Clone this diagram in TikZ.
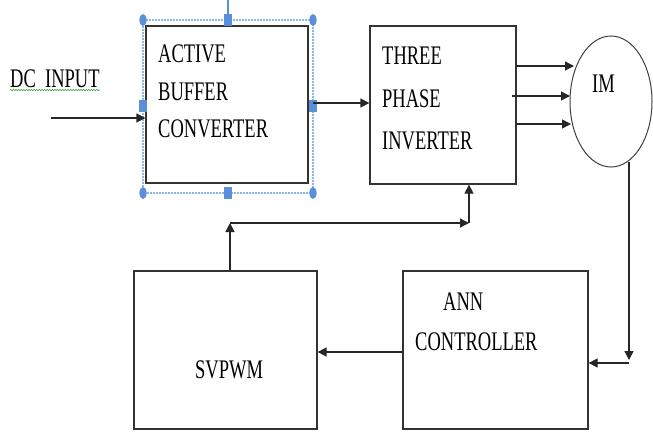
\documentclass[tikz,border=0pt]{standalone}
\usepackage{fontspec}
\setmainfont{Liberation Serif}
\usetikzlibrary{arrows.meta,decorations.pathmorphing,shapes.geometric}

% block captions are set slightly tall and narrow
\newcommand{\tallcap}[1]{\scalebox{1}[1.45]{#1}}

\definecolor{handleblue}{HTML}{5B8FD9}
\definecolor{selblue}{HTML}{8DB6E8}
\definecolor{spellgreen}{HTML}{4CB050}

\begin{document}
\begin{tikzpicture}[x=1pt,y=-1pt,
  blk/.style={draw=black!80,line width=1.3pt,fill=white,inner sep=0pt},
  lbl/.style={anchor=base west,inner sep=0pt,font=\fontsize{18.5}{20}\selectfont},
  conn/.style={draw=black!85,line width=1.3pt},
  arr/.style={conn,-{Triangle[length=9pt,width=9pt]}},
  handle/.style={fill=handleblue,draw=none},
]
\useasboundingbox[fill=white] (0,0) rectangle (653,431);

% ---- blocks ----
\node[blk,minimum width=162pt,minimum height=157pt] (abc) at (227,104.5) {};
\node[blk,minimum width=146pt,minimum height=158pt] (tpi) at (443,105) {};
\node[blk,minimum width=183pt,minimum height=158pt] (svp) at (225.5,350) {};
\node[blk,minimum width=185pt,minimum height=158pt] (ann) at (495.5,350) {};
\node[draw=black!75,line width=1pt,ellipse,inner sep=0pt,
      minimum width=82pt,minimum height=131pt] (im) at (611,101.5) {};

% ---- captions ----
\node[lbl] (abc1) at (158,62)  {\tallcap{ACTIVE}};
\node[lbl] (abc2) at (158,100) {\tallcap{BUFFER}};
\node[lbl] (abc3) at (158,137) {\tallcap{CONVERTER}};
\node[lbl] (tpi1) at (382,64)  {\tallcap{THREE}};
\node[lbl] (tpi2) at (382,107) {\tallcap{PHASE}};
\node[lbl] (tpi3) at (382,149) {\tallcap{INVERTER}};
\node[lbl] (imlbl) at (592,92) {\tallcap{IM}};
\node[lbl] (ann1) at (443,310) {\tallcap{ANN}};
\node[lbl] (ann2) at (415,350) {\tallcap{CONTROLLER}};
\node[lbl] (svp1) at (195,378) {\tallcap{SVPWM}};
\node[lbl] (dcin) at (10,87)   {\tallcap{DC\ \ INPUT}};
\draw[spellgreen,line width=0.7pt,decorate,
      decoration={snake,amplitude=0.7pt,segment length=2.6pt}]
  (dcin.base west) ++(0,3) -- ++(90,0);

% ---- selection frame around the converter block ----
\coordinate (s1) at (143,20);
\coordinate (s2) at (313,193);
\draw[selblue,line width=1.8pt,dash pattern=on 1.6pt off 1.4pt] (s1) rectangle (s2);
\draw[handleblue,line width=1.2pt] (228,0) -- (228,16);
\foreach \p in {(143,20),(313,20),(143,193),(313,193)}
  \fill[handle] \p ellipse [x radius=3.6pt,y radius=6pt];
\foreach \p in {(228,20),(228,193),(143,106),(313,106)}
  \fill[handle] \p ++(-3.6,-6) rectangle ++(7.2,12);

% ---- connectors ----
\coordinate (dcstart) at (51,118);
\draw[arr] (dcstart) -- (abc.west |- dcstart);

\coordinate (abcout) at (313,103);
\draw[arr] (abcout) -- (tpi.west |- abcout);

\coordinate (ph1a) at (516,66);   \coordinate (ph1b) at (574,66);
\coordinate (ph2a) at (512,96);   \coordinate (ph2b) at (570,96);
\coordinate (ph3a) at (516,124);  \coordinate (ph3b) at (571,124);
\draw[arr] (ph1a) -- (ph1b);
\draw[arr] (ph2a) -- (ph2b);
\draw[arr] (ph3a) -- (ph3b);

\coordinate (fbtop) at (629,162);
\coordinate (fbcorner) at (629,360);
\coordinate (fbturn) at (629,363);
\draw[arr] (fbtop) -- (fbcorner);
\draw[arr] (fbturn) -- (ann.east |- fbturn);

\coordinate (annout) at (403,352);
\draw[arr] (annout) -- (svp.east |- annout);

\coordinate (svpup) at (230,223);
\coordinate (tpiin) at (469,223);
\draw[arr] (svp.north -| svpup) -- (svpup);
\draw[arr] (svpup) -- (tpiin);
\draw[arr] (tpiin) -- (tpi.south -| tpiin);
\end{tikzpicture}
\end{document}
